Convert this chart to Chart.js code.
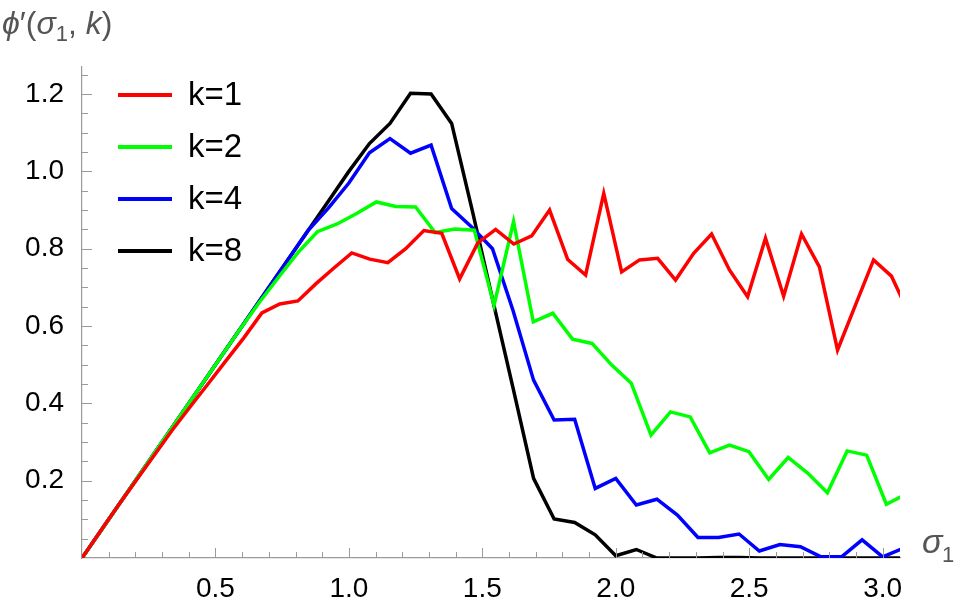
<!DOCTYPE html>
<html>
<head>
<meta charset="utf-8">
<script src="https://cdn.jsdelivr.net/npm/chart.js@4/dist/chart.umd.min.js"></script>
<style>
  html, body { margin: 0; padding: 0; background: #fff; }
  #wrap { width: 969px; height: 616px; position: relative; }
</style>
</head>
<body>
<div id="wrap"><canvas id="chart"></canvas></div>
<script>
// ─── Data ──────────────────────────────────────────────────────────────────
const X_K1 = [0, .067, .135, .202, .270, .337, .404, .472, .539, .607, .674, .741, .809, .876, .944, 1.011,
  1.078, 1.146, 1.213, 1.281, 1.348, 1.415, 1.483, 1.550, 1.618, 1.685, 1.752, 1.820, 1.887, 1.955, 2.022,
  2.089, 2.157, 2.224, 2.292, 2.359, 2.426, 2.494, 2.561, 2.629, 2.696, 2.763, 2.831, 2.898, 2.966, 3.033, 3.100];
const Y_K1 = [0, .067, .135, .20, .265, .33, .39, .45, .51, .57, .634, .657, .665, .709, .75, .789,
  .773, .764, .80, .847, .84, .722, .815, .850, .812, .833, .90, .772, .732, .943, .74,
  .771, .775, .719, .788, .838, .745, .676, .827, .677, .838, .753, .538, .654, .771, .729, .63];

const X_K2 = [0, .074, .147, .221, .294, .368, .441, .515, .588, .662, .735, .809, .882, .956, 1.029, 1.103,
  1.176, 1.25, 1.323, 1.397, 1.47, 1.544, 1.617, 1.691, 1.764, 1.838, 1.911, 1.985, 2.058, 2.132, 2.205,
  2.279, 2.352, 2.426, 2.499, 2.573, 2.646, 2.720, 2.793, 2.867, 2.940, 3.014, 3.087];
const Y_K2 = [0, .074, .147, .221, .294, .368, .441, .515, .588, .659, .725, .79, .844, .864, .891, .921,
  .909, .908, .842, .851, .848, .654, .87, .611, .633, .566, .555, .499, .452, .318, .378,
  .365, .272, .292, .275, .203, .26, .219, .169, .277, .266, .139, .165];

const X_K48 = [0, .077, .154, .231, .308, .385, .462, .538, .615, .692, .769, .846, .923, 1.0, 1.077, 1.154,
  1.231, 1.308, 1.385, 1.462, 1.538, 1.615, 1.692, 1.769, 1.846, 1.923, 2.0, 2.077, 2.154, 2.231, 2.308,
  2.385, 2.462, 2.538, 2.615, 2.692, 2.769, 2.846, 2.923, 3.0, 3.077];
const Y_K4 = [0, .077, .154, .231, .308, .385, .462, .538, .615, .692, .769, .846, .905, .97, 1.048, 1.085,
  1.047, 1.068, .904, .855, .80, .64, .46, .357, .359, .18, .206, .137, .152, .111, .053,
  .053, .062, .018, .035, .029, .003, .003, .047, .003, .025];
const Y_K8 = [0, .077, .154, .231, .308, .385, .462, .538, .615, .692, .769, .846, .923, 1.0, 1.072, 1.124,
  1.202, 1.20, 1.124, .90, .67, .44, .206, .101, .092, .06, .006, .022, 0, 0, 0,
  .001, .001, 0, 0, 0, 0, 0, 0, 0, 0];

const SERIES = [
  { label: 'k=1', xs: X_K1, ys: Y_K1, color: '#ff0000' },
  { label: 'k=2', xs: X_K2, ys: Y_K2, color: '#00ff00' },
  { label: 'k=4', xs: X_K48, ys: Y_K4, color: '#0000ff' },
  { label: 'k=8', xs: X_K48, ys: Y_K8, color: '#000000' },
];
const X_TICKS = [0.5, 1.0, 1.5, 2.0, 2.5, 3.0];
const Y_TICKS = [0.2, 0.4, 0.6, 0.8, 1.0, 1.2];

const AXIS_GREY = '#9a9a9a';
const FONT = '"Liberation Sans", Arial, sans-serif';

// ─── Plugin: minor/major ticks, legend, axis titles ────────────────────────
const decor = {
  id: 'decor',
  afterDraw(chart) {
    const { ctx, scales: { x, y } } = chart;
    const x0 = x.getPixelForValue(0), y0 = y.getPixelForValue(0);
    ctx.save();
    ctx.strokeStyle = AXIS_GREY; ctx.lineWidth = 1;
    for (let i = 1; i <= 30; i++) {
      const px = Math.round(x.getPixelForValue(i / 10)) + 0.5;
      const len = i % 5 === 0 ? 10 : 6;
      ctx.beginPath(); ctx.moveTo(px, y0); ctx.lineTo(px, y0 - len); ctx.stroke();
    }
    for (let i = 1; i <= 25; i++) {
      const py = Math.round(y.getPixelForValue(i / 20)) + 0.5;
      const len = i % 4 === 0 ? 10 : 6;
      ctx.beginPath(); ctx.moveTo(x0, py); ctx.lineTo(x0 + len, py); ctx.stroke();
    }
    // legend
    ctx.font = `33px ${FONT}`;
    ctx.textBaseline = 'middle';
    SERIES.forEach((s, i) => {
      const ly = 95 + i * 52;
      ctx.strokeStyle = s.color; ctx.lineWidth = 4;
      ctx.beginPath(); ctx.moveTo(118, ly); ctx.lineTo(172, ly); ctx.stroke();
      ctx.fillStyle = '#000';
      ctx.fillText(s.label, 188, ly + 1);
    });
    // axis titles
    ctx.fillStyle = '#555';
    ctx.textBaseline = 'alphabetic';
    let tx = 2;
    const put = (t, font, dy = 0) => { ctx.font = font; ctx.fillText(t, tx, 34 + dy); tx += ctx.measureText(t).width; };
    put('ϕ', `italic 32px ${FONT}`);
    put('′', `32px ${FONT}`);
    put('(', `32px ${FONT}`);
    put('σ', `italic 32px ${FONT}`);
    put('1', `22px ${FONT}`, 7);
    put(', ', `32px ${FONT}`);
    put('k', `italic 32px ${FONT}`);
    put(')', `32px ${FONT}`);
    ctx.font = `italic 34px ${FONT}`;
    ctx.fillText('σ', 922, 553);
    ctx.font = `22px ${FONT}`;
    ctx.fillText('1', 942, 562);
    ctx.restore();
  }
};

// ─── Chart ─────────────────────────────────────────────────────────────────
new Chart(document.getElementById('chart').getContext('2d'), {
  type: 'line',
  data: {
    datasets: SERIES.map(s => ({
      label: s.label,
      data: s.xs.map((v, i) => ({ x: v, y: s.ys[i] })),
      borderColor: s.color, borderWidth: 3.5, pointRadius: 0, tension: 0, fill: false,
    }))
  },
  options: {
    responsive: true, maintainAspectRatio: false, animation: false,
    layout: { padding: { top: 67, right: 69, left: 0, bottom: 0 } },
    plugins: { legend: { display: false }, tooltip: { enabled: false } },
    scales: {
      x: {
        type: 'linear', min: 0, max: 3.065,
        afterBuildTicks: s => { s.ticks = X_TICKS.map(v => ({ value: v })); },
        afterFit: s => { s.height = 58; },
        grid: { display: false },
        border: { color: AXIS_GREY, width: 1.2 },
        ticks: { color: '#000', font: { size: 28, family: FONT }, padding: 6, maxRotation: 0,
          callback: v => v.toFixed(1) },
      },
      y: {
        type: 'linear', min: 0, max: 1.27,
        afterBuildTicks: s => { s.ticks = Y_TICKS.map(v => ({ value: v })); },
        afterFit: s => { s.width = 82; },
        grid: { display: false },
        border: { color: AXIS_GREY, width: 1.2 },
        ticks: { color: '#000', font: { size: 28, family: FONT }, padding: 10,
          callback: v => v.toFixed(1) },
      }
    }
  },
  plugins: [decor]
});
</script>
</body>
</html>
